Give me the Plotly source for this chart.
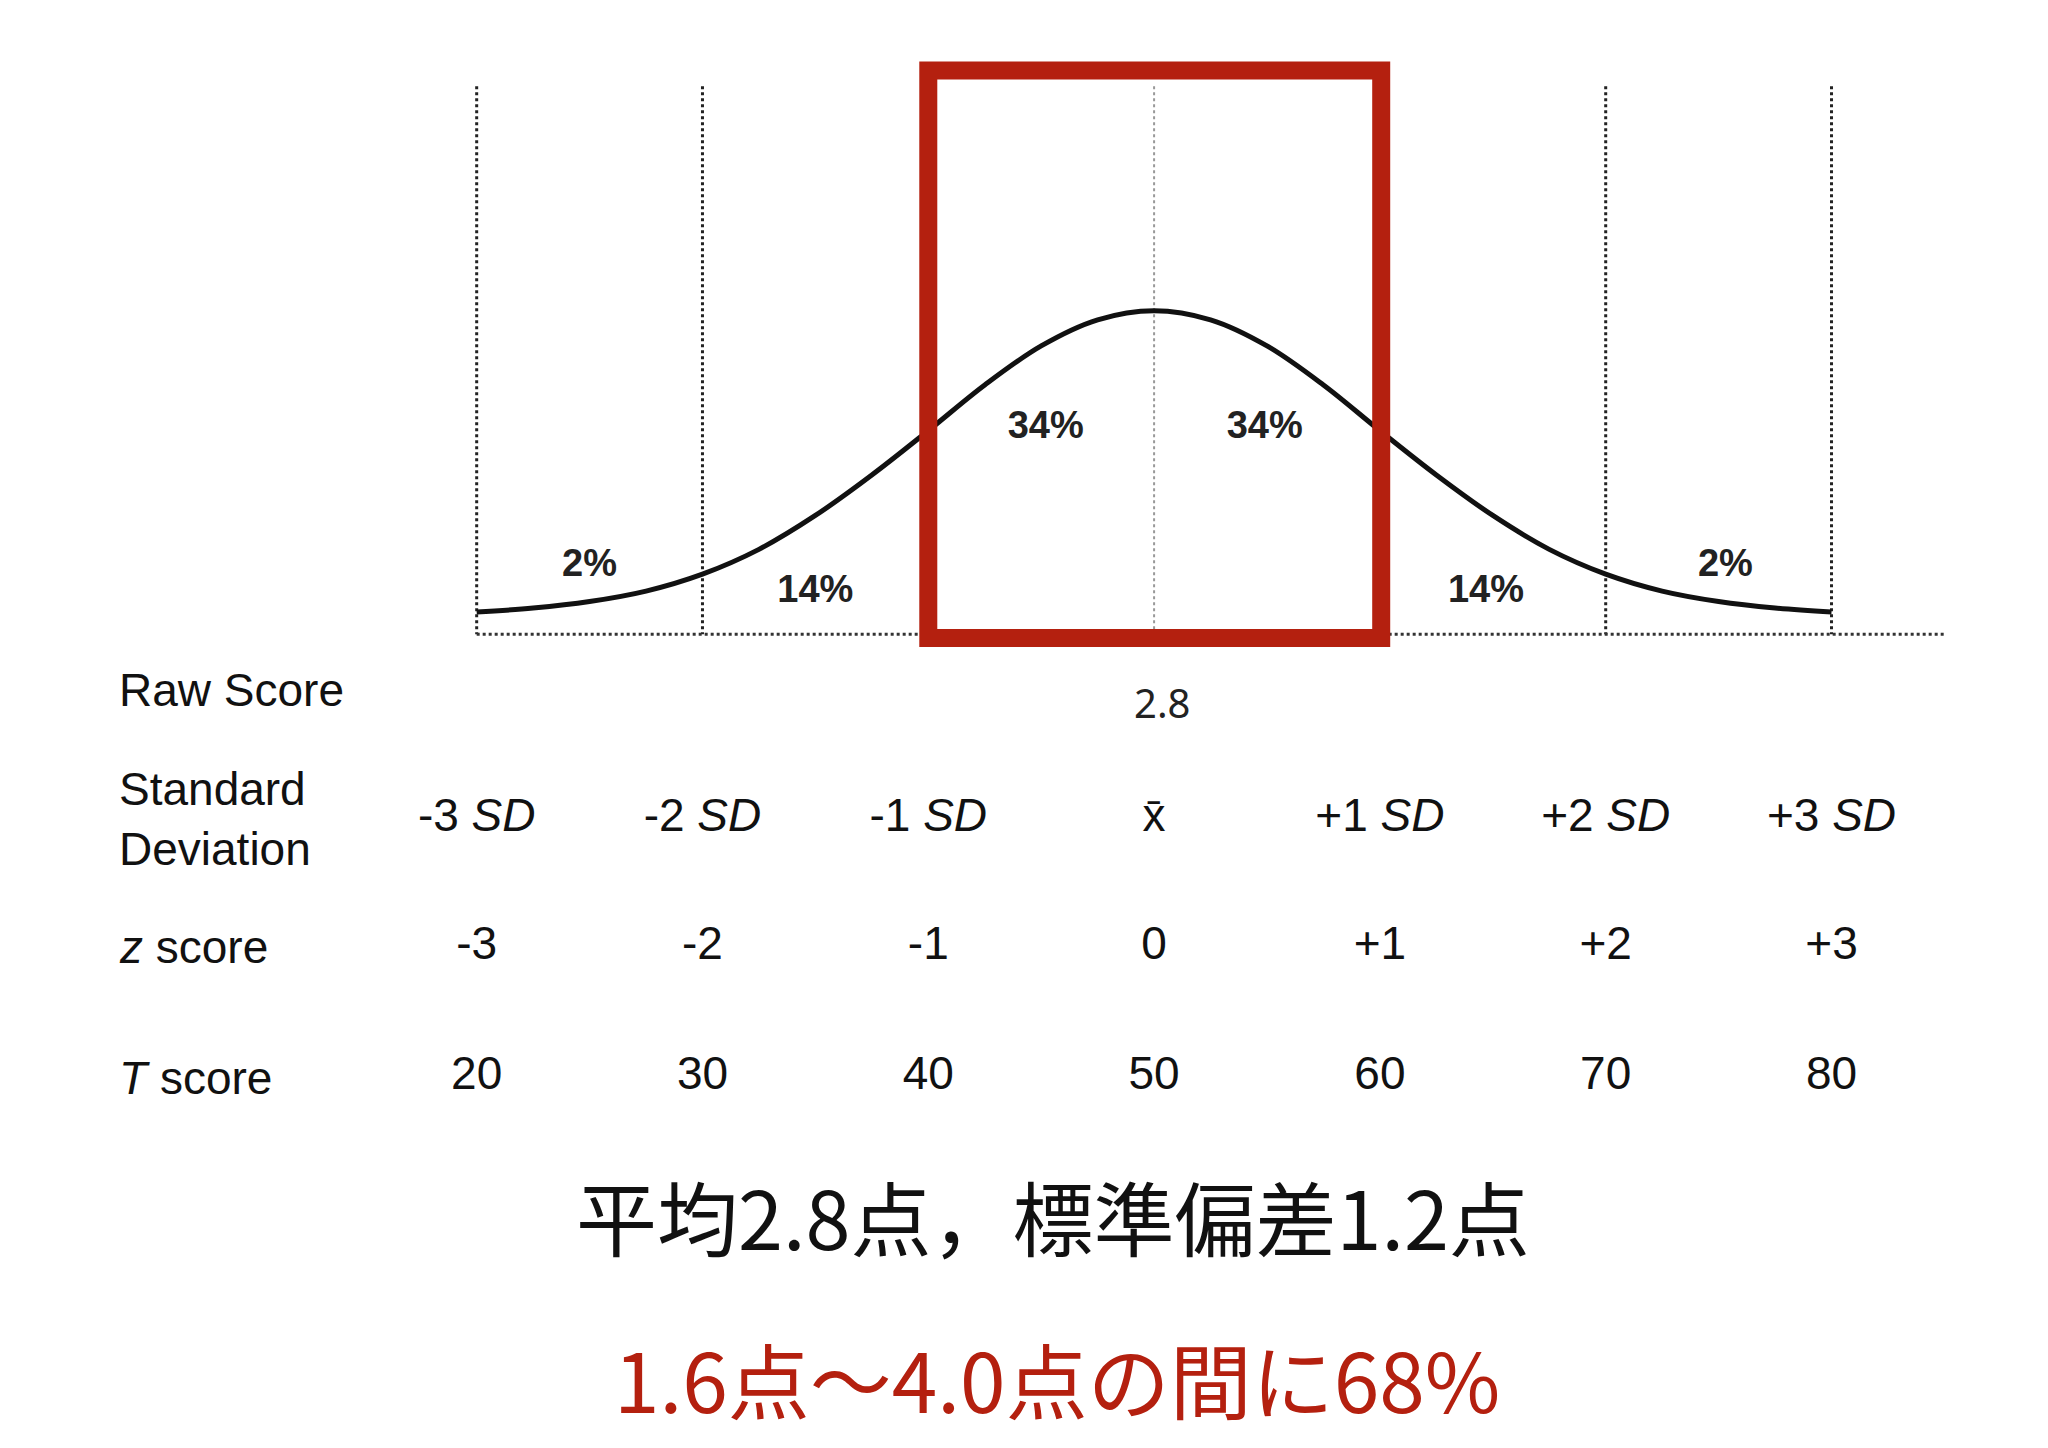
import plotly.graph_objects as go

# z positions and curve heights (px above the tails)
curve_z = [-3, -2.75, -2.5, -2.25, -2, -1.75, -1.5, -1.25, -1, -0.75, -0.5, -0.25, 0,
           0.25, 0.5, 0.75, 1, 1.25, 1.5, 1.75, 2, 2.25, 2.5, 2.75, 3]
curve_h = [2, 5, 10, 18, 31, 50, 76, 107, 141, 176, 206, 226, 233,
           226, 206, 176, 141, 107, 76, 50, 31, 18, 10, 5, 2]

sd_z = [-3, -2, -1, 0, 1, 2, 3]
sd_labels = ["-3 <i>SD</i>", "-2 <i>SD</i>", "-1 <i>SD</i>", "x̄", "+1 <i>SD</i>", "+2 <i>SD</i>", "+3 <i>SD</i>"]
z_labels = ["-3", "-2", "-1", "0", "+1", "+2", "+3"]
t_labels = ["20", "30", "40", "50", "60", "70", "80"]
pct_z = [-2.5, -1.5, -0.48, 0.49, 1.47, 2.53]
pct_y = [428, 448, 322, 322, 448, 428]
pct_labels = ["2%", "14%", "34%", "34%", "14%", "2%"]

X0, PX = 882, 172   # pixel of mean, pixels per SD (reference display scale)
SHIFT = 9
TAIL, BASE = 465, 480

fig = go.Figure()

# vertical dashed SD lines
for z in sd_z:
    dark = abs(z) >= 2
    fig.add_trace(go.Scatter(x=[z, z], y=[60, BASE], mode="lines",
                             line=dict(color="#222" if dark else "#999", width=3 if dark else 2, dash="dot"),
                             hoverinfo="skip", showlegend=False))

# baseline
fig.add_trace(go.Scatter(x=[-3, (1485 - X0) / PX], y=[BASE, BASE], mode="lines",
                         line=dict(color="#333", width=3, dash="dot"), showlegend=False))

# curve
fig.add_trace(go.Scatter(x=curve_z, y=[TAIL - h for h in curve_h], mode="lines",
                         line=dict(color="#111", width=5, shape="spline"), showlegend=False))

# percentages
fig.add_trace(go.Scatter(x=pct_z, y=pct_y, mode="text", text=["<b>%s</b>" % p for p in pct_labels],
                         textfont=dict(family="Liberation Sans", size=38, color="#222"),
                         showlegend=False))

# red box
fig.add_shape(type="rect", x0=(710 - X0) / PX, x1=(1055 - X0) / PX, y0=48, y1=483,
              line=dict(color="#b4200f", width=18))

rows = [(622, sd_labels), (720, z_labels), (820, t_labels)]
for y, labs in rows:
    fig.add_trace(go.Scatter(x=sd_z, y=[y] * 7, mode="text", text=labs,
                             textfont=dict(family="Liberation Sans", size=46, color="#111"),
                             showlegend=False))

left = (92 - X0) / PX
for y, t in [(523, "Raw Score"), (622, "Standard<br>Deviation"), (720, "<i>z</i> score"), (820, "<i>T</i> score")]:
    fig.add_annotation(x=left, y=y, text=t, showarrow=False, xanchor="left", yanchor="middle",
                       align="left", font=dict(family="Liberation Sans", size=46, color="#111"))

fig.add_annotation(x=(888 - X0) / PX, y=532, text="2.8", showarrow=False,
                   font=dict(family="Noto Sans", size=40, color="#222"))
fig.add_annotation(x=(805 - X0) / PX, y=925, text="平均2.8点，標準偏差1.2点", showarrow=False,
                   font=dict(family="Noto Sans CJK JP", size=81, color="#111"))
fig.add_annotation(x=(808 - X0) / PX, y=1050, text="1.6点〜4.0点の間に68%", showarrow=False,
                   font=dict(family="Noto Sans CJK JP", size=82, color="#b4200f"))

fig.update_layout(
    width=2048, height=1448, margin=dict(l=0, r=0, t=0, b=0),
    paper_bgcolor="white", plot_bgcolor="white",
    xaxis=dict(range=[(SHIFT - X0) / PX, (1560 + SHIFT - X0) / PX], visible=False),
    yaxis=dict(range=[1110, 0], visible=False),
)
fig.write_html("out.html")
